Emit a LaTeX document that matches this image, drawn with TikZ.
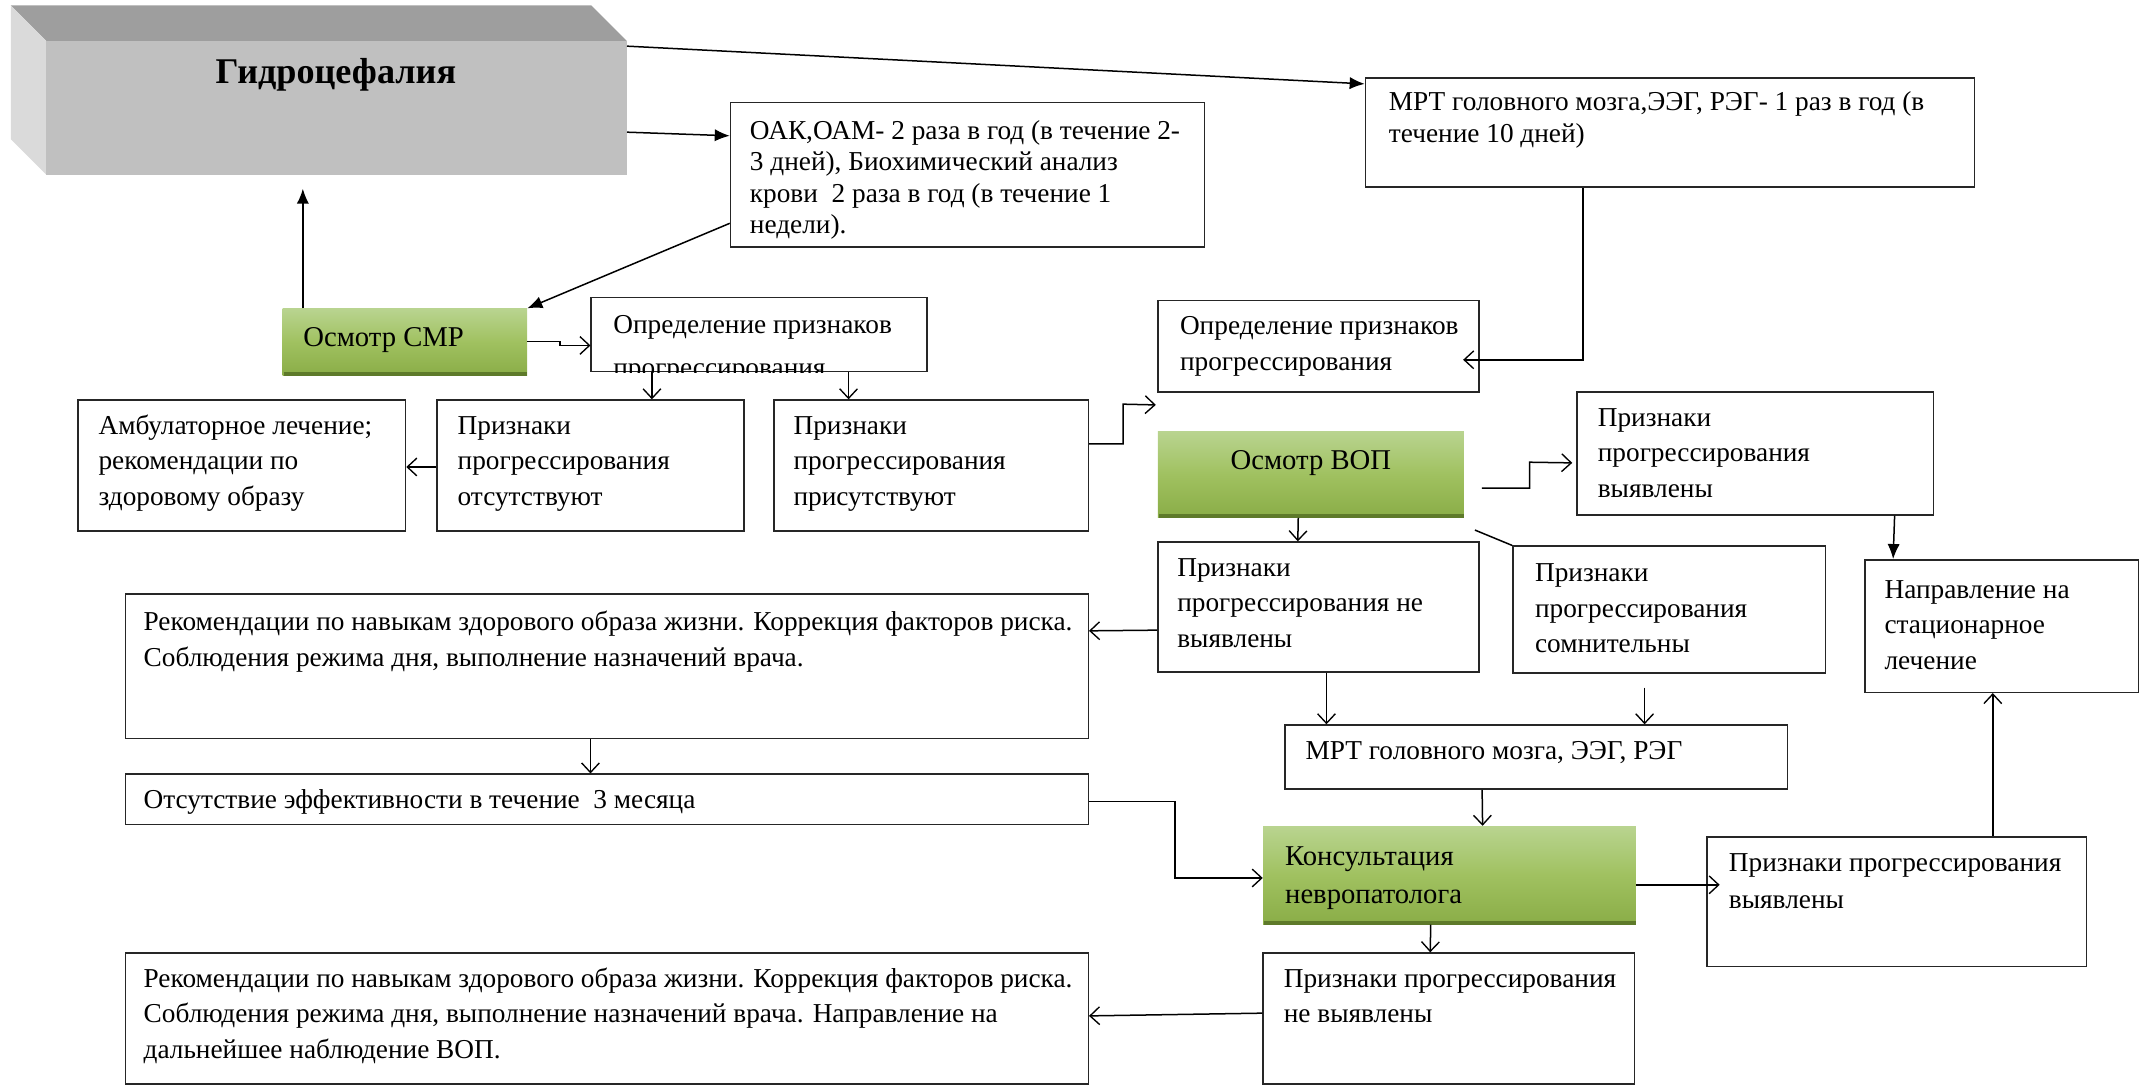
\documentclass[tikz,border=0pt]{standalone}
\usepackage{fontspec}
\setmainfont{Liberation Serif}
\usetikzlibrary{arrows.meta,fit,calc}

\definecolor{gbtop}{HTML}{B9D490}
\definecolor{gbmid}{HTML}{A0C160}
\definecolor{gbbot}{HTML}{8AAD47}
\definecolor{gbedge}{HTML}{5E7A2A}
\definecolor{cubefront}{HTML}{C0C0C0}
\definecolor{cubetop}{HTML}{9E9E9E}
\definecolor{cubeside}{HTML}{DADADA}

% lines of a label, the node's base being the first line's baseline
\newcommand\lns[1]{\begin{tabular}[t]{@{}l@{}}#1\end{tabular}}

\tikzset{
  box/.style={draw=black!85, line width=1.1pt, fill=white, inner sep=0pt},
  greenbox/.style={top color=gbtop, bottom color=gbbot, middle color=gbmid, inner sep=0pt},
  txt/.style={anchor=base west, inner sep=0pt,
              font=\fontsize{20}{26}\selectfont},
  gtxt/.style={inner sep=0pt, font=\fontsize{21}{28}\selectfont},
  conn/.style={line width=1.1pt, draw=black},
  openarrow/.style={conn, -{Straight Barb[length=7pt,width=13pt,line width=1pt]}},
  fillarrow/.style={conn, -{Latex[length=11pt,width=9pt]}},
}

\begin{document}
\begin{tikzpicture}[x=1pt,y=-1pt]
\useasboundingbox (0,0) rectangle (1568,795);

% ---------- 3D block "Гидроцефалия"
\fill[cubetop]  (8,4) -- (433,4) -- (459,30) -- (34,30) -- cycle;
\fill[cubeside] (8,4) -- (34,30) -- (34,128) -- (8,102) -- cycle;
\node[fill=cubefront, inner sep=0pt, fit={(34,30) (459,128)}] (hyd) {};
\node[inner sep=0pt, font=\fontsize{26.5}{30}\selectfont\bfseries] (hydt) at (246,55) {Гидроцефалия};

% ---------- top row
\node[box, fit={(535,75) (882,181)}] (oak) {};
\node[txt, font=\fontsize{20}{23}\selectfont] (oakt) at (549,102)
  {\lns{ОАК,ОАМ- 2 раза в год (в течение 2-\\3 дней), Биохимический анализ\\крови~ 2 раза в год (в течение 1\\недели).}};

\node[box, fit={(1000,57) (1446,137)}] (mrt1) {};
\node[txt, font=\fontsize{20}{23}\selectfont] (mrt1t) at (1017,81)
  {\lns{МРТ головного мозга,ЭЭГ, РЭГ- 1 раз в год (в\\течение 10 дней)}};

% ---------- СМР branch
\node[greenbox, fit={(207,226) (386,275)}] (smr) {};
\draw[gbedge, line width=3pt] ($(smr.south west)+(1,-1.5)$) -- ($(smr.south east)+(0,-1.5)$);
\node[gtxt, anchor=base west] (smrt) at (222,254) {Осмотр СМР};

\node[box, fit={(433,218) (679,272)}] (def1) {};
\begin{scope}
  \clip (def1.south west) rectangle (def1.north east);
  \node[txt] (def1t) at (449,244) {Определение признаков};
  \node[txt] (def1u) at (449,276) {прогрессирования};
\end{scope}

\node[box, fit={(57,293) (297,389)}] (amb) {};
\node[txt] (ambt) at (72,318) {\lns{Амбулаторное лечение;\\рекомендации по\\здоровому образу}};

\node[box, fit={(320,293) (545,389)}] (otsut) {};
\node[txt] (otsutt) at (335,318) {\lns{Признаки\\прогрессирования\\отсутствуют}};

\node[box, fit={(567,293) (797,389)}] (prisut) {};
\node[txt] (prisutt) at (581,318) {\lns{Признаки\\прогрессирования\\присутствуют}};

% ---------- ВОП branch
\node[box, fit={(848,220) (1083,287)}] (def2) {};
\node[txt] (def2t) at (864,245) {\lns{Определение признаков\\прогрессирования}};

\node[greenbox, fit={(848,316) (1072,379)}] (vop) {};
\draw[gbedge, line width=3pt] ($(vop.south west)+(1,-1.5)$) -- ($(vop.south east)+(0,-1.5)$);
\node[gtxt] (vopt) at (960,339) {Осмотр ВОП};

\node[box, fit={(1155,287) (1416,377)}] (vyy1) {};
\node[txt] (vyy1t) at (1170,312) {\lns{Признаки\\прогрессирования\\выявлены}};

\node[box, fit={(1366,410) (1566,507)}] (napr) {};
\node[txt] (naprt) at (1380,438) {\lns{Направление на\\стационарное\\лечение}};

\node[box, fit={(848,397) (1083,492)}] (nev1) {};
\node[txt] (nev1t) at (862,422) {\lns{Признаки\\прогрессирования не\\выявлены}};

\node[box, fit={(1108,400) (1337,493)}] (som) {};
\node[txt] (somt) at (1124,426) {\lns{Признаки\\прогрессирования\\сомнительны}};

% ---------- left column
\node[box, fit={(92,435) (797,541)}] (rec1) {};
\node[txt] (rec1t) at (105,462)
  {\lns{Рекомендации по навыкам здорового образа жизни. Коррекция факторов риска.\\Соблюдения режима дня, выполнение назначений врача.}};

\node[box, fit={(92,567) (797,604)}] (eff) {};
\node[txt] (efft) at (105,592) {Отсутствие эффективности в течение~ 3 месяца};

\node[box, fit={(92,698) (797,794)}] (rec2) {};
\node[txt] (rec2t) at (105,723)
  {\lns{Рекомендации по навыкам здорового образа жизни. Коррекция факторов риска.\\Соблюдения режима дня, выполнение назначений врача. Направление на\\дальнейшее наблюдение ВОП.}};

% ---------- lower middle
\node[box, fit={(941,531) (1309,578)}] (mrt2) {};
\node[txt] (mrt2t) at (956,556) {МРТ головного мозга, ЭЭГ, РЭГ};

\node[greenbox, fit={(925,605) (1198,677)}] (kons) {};
\draw[gbedge, line width=3pt] ($(kons.south west)+(1,-1.5)$) -- ($(kons.south east)+(0,-1.5)$);
\node[gtxt, anchor=base west] (konst) at (941,634) {\lns{Консультация\\невропатолога}};

\node[box, fit={(1250,613) (1528,708)}] (vyy2) {};
\node[txt, font=\fontsize{20}{27}\selectfont] (vyy2t) at (1266,638) {\lns{Признаки прогрессирования\\выявлены}};

\node[box, fit={(925,698) (1197,794)}] (nev2) {};
\node[txt] (nev2t) at (940,723) {\lns{Признаки прогрессирования\\не выявлены}};

% ---------- connectors
\draw[fillarrow] ($(hyd.north east)+(0,4)$) -- ($(mrt1.north west)+(0,5)$);
\draw[fillarrow] ($(hyd.north east)+(0,67)$) -- ($(oak.north west)+(0,25)$);
\draw[fillarrow] ($(oak.south west)+(0,-18)$) -- (smr.north east);
\draw[fillarrow] ($(smr.north west)+(15,0)$) -- ($(hyd.south west)+(188,10)$);
\draw[openarrow] ($(smr.east)+(0,-0.5)$) -- ++(24,0) -- ++(0,3) -- ($(def1.west)+(0,8)$);
\draw[openarrow] ($(def1.south west)+(45,0)$) -- ($(otsut.north west)+(158,0)$);
\draw[openarrow] ($(def1.south west)+(189,0)$) -- ($(prisut.north west)+(55,0)$);
\draw[openarrow] ($(otsut.west)+(0,1)$) -- ($(amb.east)+(0,1)$);
\draw[openarrow] ($(prisut.east)+(0,-16)$) -- ++(25,0) -- ++(0,-29) -- ($(def2.south west)+(-1,9)$);
\draw[openarrow] ($(mrt1.south west)+(160,0)$) |- ($(def2.east)+(-12,10)$);
\draw[openarrow] ($(vop.east)+(13,10)$) -- ++(35,0) -- ++(0,-19) -- ($(vyy1.west)+(-3,7)$);
\draw[fillarrow] ($(vyy1.south east)+(-29,0)$) -- ($(napr.north west)+(21,0)$);
\draw[openarrow] ($(vop.south west)+(103,0)$) -- ($(nev1.north west)+(103,0)$);
\draw[conn] ($(vop.south east)+(8,9)$) -- (som.north west);
\draw[openarrow] ($(nev1.west)+(0,17)$) -- ($(rec1.east)+(0,-26)$);
\draw[openarrow] ($(rec1.south west)+(341,0)$) -- ($(eff.north west)+(341,0)$);
\draw[openarrow] ($(nev1.south west)+(124,0)$) -- ($(mrt2.north west)+(31,0)$);
\draw[openarrow] ($(som.south west)+(97,10)$) -- ($(mrt2.north west)+(264,0)$);
\draw[openarrow] ($(mrt2.south west)+(145,0)$) -- ($(kons.north west)+(161,0)$);
\draw[openarrow] ($(eff.east)+(0,1.5)$) -- ++(63,0) |- ($(kons.west)+(0,2)$);
\draw[openarrow] ($(kons.east)+(0,7)$) -- ($(vyy2.west)+(10,-12.5)$);
\draw[openarrow] ($(vyy2.north west)+(210,0)$) -- ($(napr.south west)+(94,0)$);
\draw[openarrow] ($(kons.south west)+(123,0)$) -- ($(nev2.north west)+(123,0)$);
\draw[openarrow] ($(nev2.west)+(0,-4)$) -- ($(rec2.east)+(0,-2)$);
\end{tikzpicture}
\end{document}
